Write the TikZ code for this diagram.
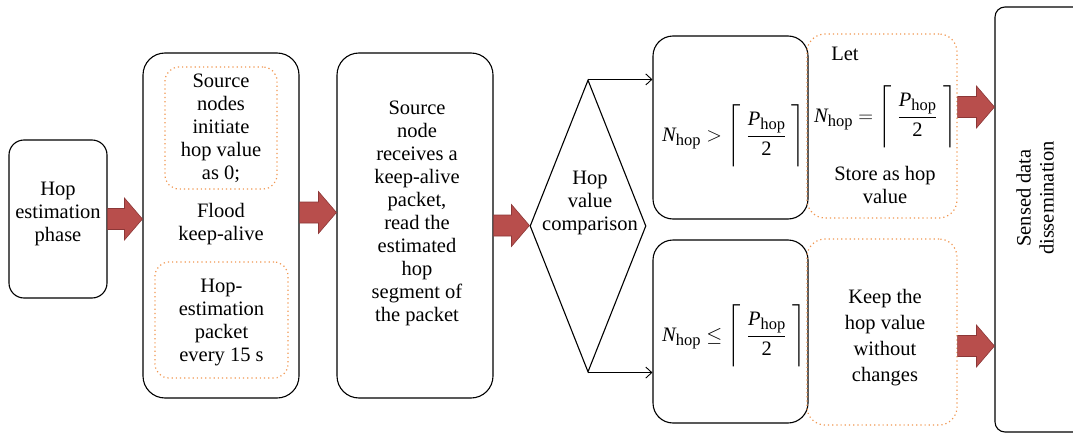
\RequirePackage{fix-cm}
\documentclass[tikz,border=0pt]{standalone}
\usepackage{amsmath}
\usepackage{fontspec}
\setmainfont{Liberation Serif}
\usetikzlibrary{shapes.geometric,arrows.meta,calc}
\definecolor{arrfill}{RGB}{184,78,76}
\definecolor{arrdraw}{RGB}{140,55,55}
\definecolor{dotc}{RGB}{240,150,80}
\newcommand\blockarr[2]{%
  \draw[blockarrow] ($(#1)+(0,-10.5)$) -- ($(#2)+(-18,-10.5)$) -- ($(#2)+(-18,-21)$) -- (#2)
    -- ($(#2)+(-18,21)$) -- ($(#2)+(-18,10.5)$) -- ($(#1)+(0,10.5)$) -- cycle;}
\newcommand\hopsub{\raisebox{-4pt}{\fontsize{16.5}{17}\selectfont hop}}
\newcommand\ceilfrac{\left\lceil\vrule height 36pt depth 26pt width 0pt\;\dfrac{\textit{P}\hopsub}{\text{2}}\;\right\rceil}
\begin{document}
\begin{tikzpicture}[x=1pt,y=-1pt,
  txt/.style={font=\fontsize{20.5}{23}\selectfont, align=center, inner sep=0pt},
  box/.style={draw, line width=1.1pt, rounded corners=#1, inner sep=0pt},
  dotbox/.style={draw=dotc, line width=1.2pt, dash pattern=on 1.2pt off 3pt, rounded corners=#1, inner sep=0pt},
  blockarrow/.style={fill=arrfill, draw=arrdraw, line width=0.6pt},
  thinarrow/.style={draw, line width=0.9pt, -{Straight Barb[length=6pt,width=11pt]}},
  diam/.style={draw, line width=1.1pt, diamond, inner sep=0pt, minimum width=116pt, minimum height=292pt}
]
\useasboundingbox (0,0) rectangle (1073,444);
% boxes
\node[box=15, minimum width=98, minimum height=158] (b1) at (58,219) {};
\node[box=22, minimum width=156, minimum height=345] (b2) at (221,225.5) {};
\node[dotbox=14, minimum width=112, minimum height=122] (dA) at (221,128) {};
\node[dotbox=14, minimum width=133, minimum height=116] (dB) at (221.5,320) {};
\node[box=22, minimum width=156, minimum height=345] (b3) at (415,225.5) {};
\node[diam] (dia) at (588,226) {};
\node[box=20, minimum width=155, minimum height=183] (b4) at (730.5,127.5) {};
\node[box=20, minimum width=155, minimum height=183] (b5) at (730.5,331.5) {};
\node[dotbox=18, minimum width=150, minimum height=184] (d3) at (882,126) {};
\node[dotbox=18, minimum width=150, minimum height=186] (d4) at (882,332) {};
\node[box=10, minimum width=95, minimum height=425] (rb) at (1042.5,219.5) {};
% texts
\node[txt] (t1) at (58,214) {Hop\\estimation\\phase};
\node[txt] (tA) at (221,128) {Source\\nodes\\initiate\\hop value\\as 0;};
\node[txt] (tF) at (221,224) {Flood\\keep-alive};
\node[txt] (tB) at (221.5,322) {Hop-\\estimation\\packet\\every 15 s};
\node[txt] (t3) at (417,213) {Source\\node\\receives a\\keep-alive\\packet,\\read the\\estimated\\hop\\segment of\\the packet};
\node[txt] (td) at (590,203) {Hop\\value\\comparison};
\node[txt, anchor=west] (f4) at (662,136) {$\textit{N}\hopsub > \ceilfrac$};
\node[txt, anchor=west] (f5) at (662,336) {$\textit{N}\hopsub \leq \ceilfrac$};
\node[txt] (tlet) at (845,54) {Let};
\node[txt, anchor=west] (f3) at (814,117) {$\textit{N}\hopsub = \ceilfrac$};
\node[txt] (tst) at (885,185) {Store as hop\\value};
\node[txt, font=\fontsize{20.5}{26}\selectfont] (tkp) at (885,338) {Keep the\\hop value\\without\\changes};
\node[txt, rotate=90] (trb) at (1035,198) {Sensed data\\dissemination};
% connectors
\blockarr{b1.east}{b1.east -| b2.west}
\coordinate (a2s) at ($(b2.east)+(0,-13)$);
\blockarr{a2s}{a2s -| b3.west}
\blockarr{b3.east}{b3.east -| dia.west}
\coordinate (a4s) at ($(d3.east)+(0,-19)$);
\blockarr{a4s}{a4s -| rb.west}
\coordinate (a5s) at ($(d4.east)+(0,14)$);
\blockarr{a5s}{a5s -| rb.west}
\draw[thinarrow] (dia.north) -- (dia.north -| b4.west);
\draw[thinarrow] (dia.south) -- (dia.south -| b5.west);
\end{tikzpicture}
\end{document}
